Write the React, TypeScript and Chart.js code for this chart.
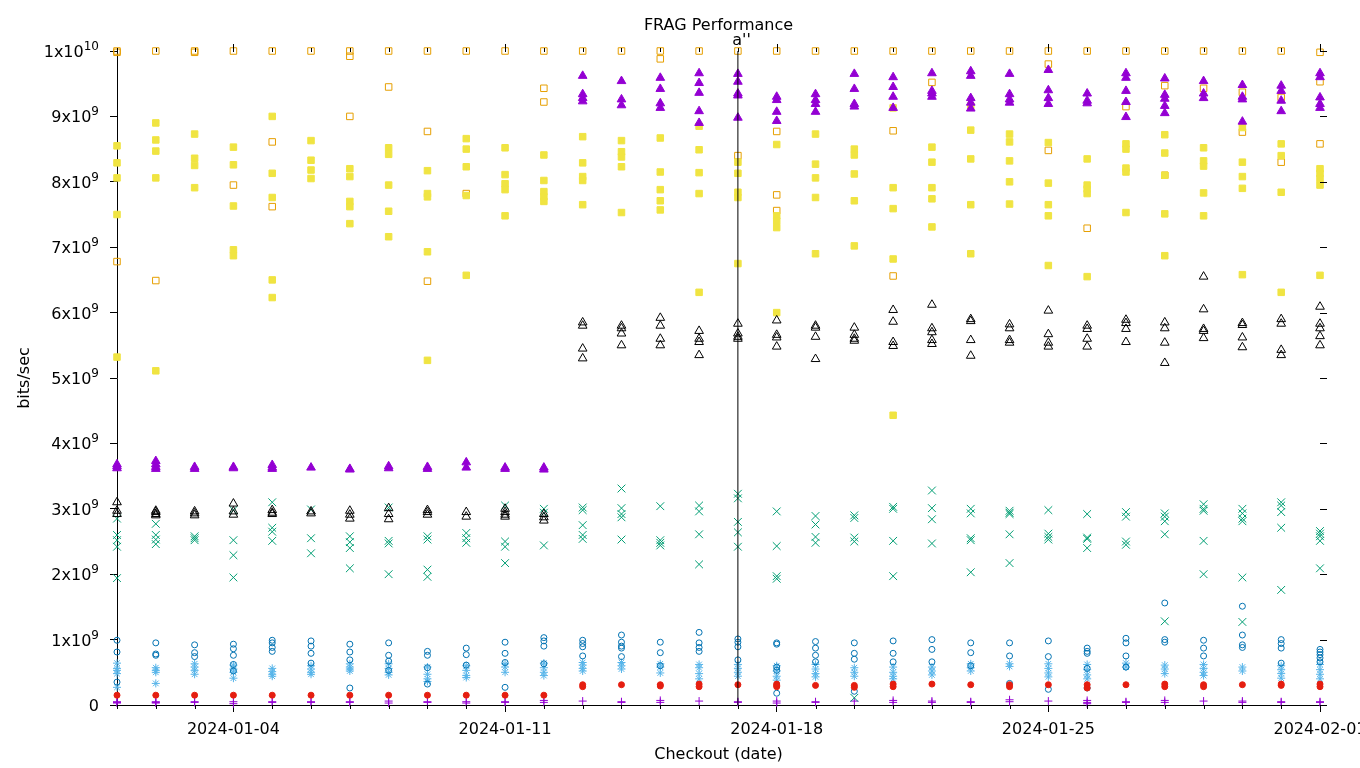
import React, { useEffect, useRef } from 'react';
import { Chart, registerables } from 'chart.js';

Chart.register(...registerables);

// ---------- data ----------
const dates = [
  '2024-01-01', '2024-01-02', '2024-01-03', '2024-01-04', '2024-01-05', '2024-01-06', '2024-01-07', '2024-01-08',
  '2024-01-09', '2024-01-10', '2024-01-11', '2024-01-12', '2024-01-13', '2024-01-14', '2024-01-15', '2024-01-16',
  '2024-01-17', '2024-01-18', '2024-01-19', '2024-01-20', '2024-01-21', '2024-01-22', '2024-01-23', '2024-01-24',
  '2024-01-25', '2024-01-26', '2024-01-27', '2024-01-28', '2024-01-29', '2024-01-30', '2024-01-31', '2024-02-01',
];
const xTickDays = [3, 10, 17, 24, 31];
// "base^exponent" -> exponent drawn as superscript
const yTickLabels = ['0', '1x10^9', '2x10^9', '3x10^9', '4x10^9', '5x10^9', '6x10^9', '7x10^9', '8x10^9', '9x10^9', '1x10^10'];
const UNIT = 1e9; // values below are in units of 1e9 bits/sec
const titleText = 'FRAG Performance';
const subtitleText = "a''";
const markerLineDay = 16;
const markerLineRange = [0, 10];

// one inner list per day (index = day since 2024-01-01)
const purplePlus: number[][] = [
  [0.05, 0.04, 0.03], [0.05, 0.04, 0.03], [0.05, 0.04], [0.05, 0.02], [0.05, 0.04], [0.05, 0.04], [0.05, 0.04], [0.06, 0.03],
  [0.05, 0.04], [0.05, 0.03], [0.05, 0.04], [0.07, 0.04], [0.06], [0.05, 0.04], [0.07, 0.04], [0.06],
  [0.05, 0.04], [0.06, 0.03], [0.05, 0.04], [0.06], [0.07, 0.04], [0.06, 0.04], [0.05, 0.04], [0.08, 0.05],
  [0.06], [0.07, 0.04, 0.02], [0.05, 0.04], [0.07, 0.04], [0.06], [0.06, 0.04], [0.05, 0.04], [0.05, 0.04],
];
const greenX: number[][] = [
  [2.85, 2.6, 2.52, 2.42, 1.94], [2.77, 2.6, 2.53, 2.46], [2.58, 2.55, 2.52], [2.98, 2.52, 2.29, 1.95],
  [3.1, 2.71, 2.65, 2.51], [2.99, 2.55, 2.32], [2.58, 2.49, 2.4, 2.09], [3.02, 2.51, 2.47, 2.0],
  [2.58, 2.53, 2.07, 1.96], [2.63, 2.55, 2.48], [3.05, 2.5, 2.42, 2.17], [3.0, 2.94, 2.44],
  [3.02, 2.98, 2.75, 2.6, 2.54], [3.31, 3.01, 2.92, 2.87, 2.53], [3.04, 2.52, 2.48, 2.44], [3.05, 2.96, 2.61, 2.15],
  [3.23, 3.16, 2.8, 2.64, 2.42], [2.96, 2.43, 1.97, 1.93], [2.89, 2.76, 2.57, 2.48], [2.9, 2.86, 2.56, 2.5, 0.11],
  [3.03, 3.0, 2.51, 1.97], [3.28, 3.01, 2.84, 2.47], [3.0, 2.93, 2.55, 2.52, 2.03], [2.97, 2.94, 2.92, 2.61, 2.17],
  [2.98, 2.62, 2.57, 2.53], [2.92, 2.56, 2.54, 2.4], [2.95, 2.88, 2.5, 2.45], [2.93, 2.88, 2.81, 2.61, 1.28],
  [3.07, 3.0, 2.97, 2.51, 2.0], [3.0, 2.93, 2.85, 2.81, 1.95, 1.27], [3.1, 3.05, 2.95, 2.71, 1.76], [2.66, 2.62, 2.58, 2.51, 2.09],
];
const lightBlueStar: number[][] = [
  [0.64, 0.56, 0.53, 0.48, 0.27], [0.57, 0.53, 0.5, 0.33], [0.63, 0.58, 0.53, 0.47], [0.61, 0.55, 0.5, 0.41],
  [0.56, 0.51, 0.47, 0.44], [0.6, 0.55, 0.5, 0.47], [0.63, 0.58, 0.55, 0.52], [0.63, 0.56, 0.5, 0.46],
  [0.58, 0.47, 0.4, 0.36], [0.6, 0.53, 0.45, 0.42], [0.63, 0.58, 0.5], [0.64, 0.57, 0.5, 0.45],
  [0.65, 0.61, 0.56, 0.52], [0.65, 0.6, 0.55], [0.63, 0.58, 0.49], [0.62, 0.57, 0.48, 0.4],
  [0.62, 0.56, 0.5, 0.44], [0.6, 0.52, 0.44, 0.38], [0.62, 0.55, 0.48, 0.43], [0.57, 0.5, 0.44],
  [0.58, 0.5, 0.44, 0.4], [0.58, 0.52, 0.46], [0.63, 0.57, 0.52], [0.63, 0.59],
  [0.63, 0.56, 0.49, 0.43], [0.62, 0.54, 0.46, 0.4], [0.64, 0.58], [0.61, 0.55, 0.48],
  [0.62, 0.56, 0.5, 0.45], [0.58, 0.52], [0.6, 0.54, 0.48, 0.41], [0.62, 0.54, 0.47, 0.4],
];
const orangeOpenSquare: number[][] = [
  [10, 9.98, 6.78], [10, 6.49], [10, 9.98], [10, 7.95], [10, 8.61, 7.62], [10], [10, 9.92, 9.0], [10, 9.45],
  [10, 8.77, 6.48], [10, 7.82], [10], [10, 9.43, 9.22], [10], [10], [10, 9.88], [10],
  [10, 8.4], [10, 8.77, 7.8, 7.56], [10], [10], [10, 8.78, 6.56], [10, 9.52], [10], [10],
  [10, 9.8, 8.48], [10, 7.29], [10, 9.15], [10, 9.47, 8.1], [10, 9.43], [10, 9.37, 8.76], [10, 9.29, 8.3], [9.98, 9.53, 8.58],
];
const yellowSquare: number[][] = [
  [8.55, 8.29, 8.06, 7.5, 5.32], [8.9, 8.64, 8.47, 8.06, 5.11], [8.73, 8.36, 8.25, 7.91], [8.53, 8.26, 7.63, 6.96, 6.87],
  [9.0, 8.13, 7.76, 6.5, 6.23], [8.63, 8.33, 8.18, 8.05], [8.2, 8.08, 7.7, 7.62, 7.36], [8.52, 8.42, 7.95, 7.55, 7.16],
  [8.17, 7.82, 7.77, 6.93, 5.27], [8.66, 8.5, 8.23, 7.79, 6.57], [8.52, 8.11, 7.97, 7.88, 7.48], [8.41, 8.02, 7.85, 7.77, 7.7],
  [8.69, 8.29, 8.08, 8.02, 7.65], [8.63, 8.46, 8.38, 8.23, 7.53], [8.67, 8.15, 7.88, 7.71, 7.57], [8.85, 8.49, 8.14, 7.82, 6.31],
  [8.3, 8.13, 7.84, 7.76, 6.75], [8.57, 7.48, 7.4, 7.3, 6.0], [8.73, 8.27, 8.06, 7.76, 6.9], [8.5, 8.41, 8.12, 7.71, 7.02],
  [9.13, 7.91, 7.59, 6.82, 4.43], [8.53, 8.3, 7.91, 7.74, 7.31], [9.16, 8.79, 8.35, 7.65, 6.9], [8.73, 8.61, 8.32, 8.0, 7.66],
  [8.6, 7.98, 7.65, 7.48, 6.72], [8.35, 7.95, 7.89, 7.82, 6.55], [8.58, 8.5, 8.21, 8.15, 7.53], [8.72, 8.44, 8.1, 7.51, 6.87],
  [8.52, 8.32, 8.24, 7.83, 7.48], [8.83, 8.3, 8.08, 7.9, 6.58], [8.58, 8.4, 7.84, 6.31], [8.2, 8.13, 8.05, 7.95, 6.57],
];
const blueOpenCircle: number[][] = [
  [0.99, 0.81, 0.35], [0.95, 0.78, 0.76], [0.92, 0.8, 0.74], [0.93, 0.86, 0.76, 0.62, 0.52],
  [0.99, 0.95, 0.88, 0.82], [0.98, 0.9, 0.79, 0.64], [0.93, 0.81, 0.69, 0.26], [0.95, 0.76, 0.67, 0.53],
  [0.82, 0.76, 0.57, 0.32], [0.87, 0.77, 0.61], [0.96, 0.79, 0.65, 0.27], [1.03, 0.98, 0.9, 0.63],
  [0.99, 0.94, 0.89, 0.75], [1.07, 0.96, 0.9, 0.87, 0.74], [0.96, 0.8, 0.6], [1.11, 0.95, 0.88, 0.82],
  [1.01, 0.96, 0.89, 0.69], [0.95, 0.93, 0.58, 0.53, 0.18], [0.97, 0.87, 0.76, 0.66], [0.95, 0.79, 0.7, 0.21],
  [0.98, 0.79, 0.66], [1.0, 0.85, 0.66], [0.95, 0.8, 0.6], [0.95, 0.75, 0.33],
  [0.98, 0.74, 0.24], [0.87, 0.82, 0.79, 0.56, 0.26], [1.02, 0.95, 0.75, 0.58], [1.56, 1.0, 0.96],
  [0.99, 0.87, 0.75], [1.51, 1.07, 0.92, 0.88], [1.0, 0.94, 0.87, 0.64], [0.85, 0.81, 0.77, 0.72, 0.66],
];
const redCircle: number[][] = [
  [0.15], [0.15], [0.15], [0.15], [0.15], [0.15], [0.15], [0.15],
  [0.15], [0.15], [0.15], [0.15], [0.31, 0.28], [0.31], [0.31, 0.29], [0.32, 0.28],
  [0.31], [0.32, 0.3, 0.28], [0.3], [0.3, 0.27], [0.32, 0.28], [0.32], [0.31], [0.31, 0.28],
  [0.31], [0.31, 0.26], [0.31], [0.32, 0.28], [0.31, 0.28], [0.31], [0.32, 0.3], [0.32, 0.28],
];
const blackOpenTriangle: number[][] = [
  [3.1, 2.97, 2.92], [2.97, 2.95, 2.92, 2.9], [2.96, 2.93, 2.9], [3.08, 2.96, 2.91],
  [2.98, 2.94, 2.92], [2.96, 2.93], [2.97, 2.91, 2.85], [3.01, 2.92, 2.84],
  [2.98, 2.95, 2.91], [2.95, 2.88], [3.0, 2.95, 2.91, 2.88], [2.92, 2.87, 2.82],
  [5.85, 5.8, 5.45, 5.3], [5.8, 5.76, 5.68, 5.5], [5.92, 5.8, 5.6, 5.5], [5.72, 5.6, 5.55, 5.35],
  [5.83, 5.68, 5.63, 5.6], [5.88, 5.66, 5.62, 5.48], [5.8, 5.77, 5.63, 5.29], [5.77, 5.66, 5.6, 5.57],
  [6.04, 5.86, 5.55, 5.49], [6.12, 5.76, 5.7, 5.58, 5.52], [5.9, 5.87, 5.58, 5.34], [5.82, 5.76, 5.58, 5.54],
  [6.03, 5.67, 5.54, 5.48], [5.8, 5.75, 5.6, 5.48], [5.89, 5.84, 5.75, 5.55], [5.85, 5.76, 5.54, 5.23],
  [6.55, 6.05, 5.75, 5.72, 5.61], [5.84, 5.81, 5.62, 5.47], [5.9, 5.83, 5.43, 5.35], [6.09, 5.83, 5.76, 5.64, 5.5],
];
const purpleTriangle: number[][] = [
  [3.68, 3.65, 3.62], [3.73, 3.68, 3.64, 3.61], [3.64, 3.61], [3.64, 3.62],
  [3.67, 3.63, 3.61], [3.63], [3.61, 3.6], [3.65, 3.62],
  [3.64, 3.61], [3.71, 3.63], [3.63, 3.61], [3.63, 3.6],
  [9.62, 9.34, 9.28, 9.23], [9.54, 9.26, 9.17], [9.59, 9.42, 9.2, 9.13], [9.66, 9.51, 9.36, 9.08, 8.9],
  [9.65, 9.53, 9.35, 9.32, 8.98], [9.3, 9.25, 9.07, 8.93], [9.34, 9.25, 9.19, 9.07], [9.65, 9.42, 9.19, 9.15],
  [9.6, 9.45, 9.3, 9.13], [9.66, 9.39, 9.35, 9.3], [9.69, 9.62, 9.28, 9.21, 9.12], [9.65, 9.34, 9.26, 9.21],
  [9.71, 9.4, 9.28, 9.19], [9.35, 9.24, 9.2], [9.66, 9.59, 9.39, 9.22, 8.99], [9.58, 9.33, 9.27, 9.16, 9.05],
  [9.54, 9.35, 9.28], [9.48, 9.3, 9.26, 8.92], [9.47, 9.39, 9.24, 9.08], [9.66, 9.6, 9.29, 9.19, 9.13],
];

// ---------- helpers ----------
function toPoints(cols: number[][]) {
  const pts: { x: number; y: number }[] = [];
  cols.forEach((vals, day) => vals.forEach((v) => pts.push({ x: day, y: v * UNIT })));
  return pts;
}

const FONT = "'DejaVu Sans', 'Liberation Sans', sans-serif";

const decorPlugin = {
  id: 'decor',
  afterDatasetsDraw(chart: any) {
    const { ctx, chartArea: a, scales } = chart;
    const x = scales.x;
    const y = scales.y;
    ctx.save();
    ctx.strokeStyle = '#000';
    ctx.lineWidth = 1;
    ctx.beginPath();
    for (let d = 0; d < dates.length; d++) {
      const px = Math.round(x.getPixelForValue(d)) + 0.5;
      const major = xTickDays.includes(d);
      ctx.moveTo(px, a.top + 1);
      ctx.lineTo(px, a.top - (major ? 7 : 3));
      if (!major) {
        ctx.moveTo(px, a.bottom);
        ctx.lineTo(px, a.bottom + 4);
      }
    }
    for (let i = 0; i < yTickLabels.length; i++) {
      const py = Math.round(y.getPixelForValue(i * UNIT)) + 0.5;
      ctx.moveTo(a.right, py);
      ctx.lineTo(a.right + 7, py);
    }
    ctx.stroke();

    // y tick labels with superscript exponents
    ctx.fillStyle = '#000';
    ctx.textBaseline = 'alphabetic';
    ctx.textAlign = 'right';
    const labelRight = a.left - 18;
    yTickLabels.forEach((lab, i) => {
      const py = y.getPixelForValue(i * UNIT);
      const base = py + 6;
      const [mant, exp] = lab.split('^');
      if (exp) {
        ctx.font = `12px ${FONT}`;
        const ew = ctx.measureText(exp).width;
        ctx.fillText(exp, labelRight, base - 7);
        ctx.font = `16px ${FONT}`;
        ctx.fillText(mant, labelRight - ew, base);
      } else {
        ctx.font = `16px ${FONT}`;
        ctx.fillText(mant, labelRight, base);
      }
    });

    ctx.font = `16px ${FONT}`;
    ctx.textAlign = 'center';
    const cx = (a.left + a.right) / 2;
    ctx.fillText(titleText, cx, a.top - 21);
    ctx.fillText(subtitleText, cx + 23, a.top - 6);
    ctx.restore();
  },
};

type SeriesDef = {
  label: string;
  cols: number[][];
  color: string;
  style: string;
  radius: number;
  filled: boolean;
};

// listed top-most first (Chart.js draws the first dataset last)
const seriesDefs: SeriesDef[] = [
  { label: 'purple triangles', cols: purpleTriangle, color: '#9400D3', style: 'triangle', radius: 5, filled: true },
  { label: 'black triangles', cols: blackOpenTriangle, color: '#000000', style: 'triangle', radius: 5, filled: false },
  { label: 'red circles', cols: redCircle, color: '#E51E10', style: 'circle', radius: 3, filled: true },
  { label: 'blue circles', cols: blueOpenCircle, color: '#0072B2', style: 'circle', radius: 3, filled: false },
  { label: 'yellow squares', cols: yellowSquare, color: '#F0E442', style: 'rect', radius: 4.6, filled: true },
  { label: 'orange squares', cols: orangeOpenSquare, color: '#E69F00', style: 'rect', radius: 4.6, filled: false },
  { label: 'light blue stars', cols: lightBlueStar, color: '#56B4E9', style: 'star', radius: 4, filled: false },
  { label: 'green x', cols: greenX, color: '#009E73', style: 'crossRot', radius: 5.5, filled: false },
  { label: 'purple plus', cols: purplePlus, color: '#9400D3', style: 'cross', radius: 4, filled: false },
];

export default function App() {
  const ref = useRef<HTMLCanvasElement | null>(null);

  useEffect(() => {
    document.body.style.margin = '0';
    const canvas = ref.current;
    if (!canvas) return;

    const datasets: any[] = [
      {
        label: 'marker',
        data: markerLineRange.map((v) => ({ x: markerLineDay, y: v * UNIT })),
        showLine: true,
        borderColor: '#000',
        borderWidth: 1,
        pointRadius: 0,
        clip: false,
      },
      ...seriesDefs.map((s) => ({
        label: s.label,
        data: toPoints(s.cols),
        showLine: false,
        pointStyle: s.style,
        pointRadius: s.radius,
        pointBorderWidth: 1,
        pointBorderColor: s.color,
        pointBackgroundColor: s.filled ? s.color : 'rgba(0,0,0,0)',
        borderColor: s.color,
        backgroundColor: s.filled ? s.color : 'rgba(0,0,0,0)',
        clip: false,
      })),
    ];

    const chart = new Chart(canvas, {
      type: 'scatter',
      data: { datasets },
      options: {
        responsive: false,
        animation: false,
        devicePixelRatio: 1,
        events: [],
        layout: { padding: { top: 51, right: 40, bottom: 0, left: 0 } },
        plugins: {
          legend: { display: false },
          title: { display: false },
          tooltip: { enabled: false },
        },
        scales: {
          x: {
            type: 'linear',
            min: 0,
            max: dates.length - 1,
            afterBuildTicks: (scale: any) => {
              scale.ticks = xTickDays.map((v) => ({ value: v }));
            },
            afterFit: (scale: any) => {
              scale.height = 63;
              scale.paddingLeft = 0;
              scale.paddingRight = 0;
            },
            grid: { drawOnChartArea: false, tickLength: 7, color: '#000', tickColor: '#000' },
            border: { display: true, color: '#000', width: 1 },
            ticks: {
              autoSkip: false,
              maxRotation: 0,
              padding: 8,
              color: '#000',
              font: { family: FONT, size: 16 },
              callback: (v: any) => dates[Math.round(Number(v))] ?? '',
            },
            title: {
              display: true,
              text: 'Checkout (date)',
              color: '#000',
              font: { family: FONT, size: 16 },
              padding: { top: 0, bottom: 4 },
            },
          },
          y: {
            type: 'linear',
            min: 0,
            max: 10 * UNIT,
            afterFit: (scale: any) => {
              scale.width = 117;
            },
            grid: { drawOnChartArea: false, tickLength: 7, color: '#000', tickColor: '#000' },
            border: { display: true, color: '#000', width: 1 },
            ticks: {
              stepSize: UNIT,
              padding: 7,
              color: '#000',
              font: { family: FONT, size: 16 },
              callback: () => '',
            },
            title: {
              display: true,
              text: 'bits/sec',
              color: '#000',
              font: { family: FONT, size: 16 },
              padding: { top: 15, bottom: 0 },
            },
          },
        },
      },
      plugins: [decorPlugin],
    } as any);

    return () => chart.destroy();
  }, []);

  return (
    <div style={{ width: 1360, height: 768 }}>
      <canvas ref={ref} width={1360} height={768} style={{ display: 'block' }} />
    </div>
  );
}
